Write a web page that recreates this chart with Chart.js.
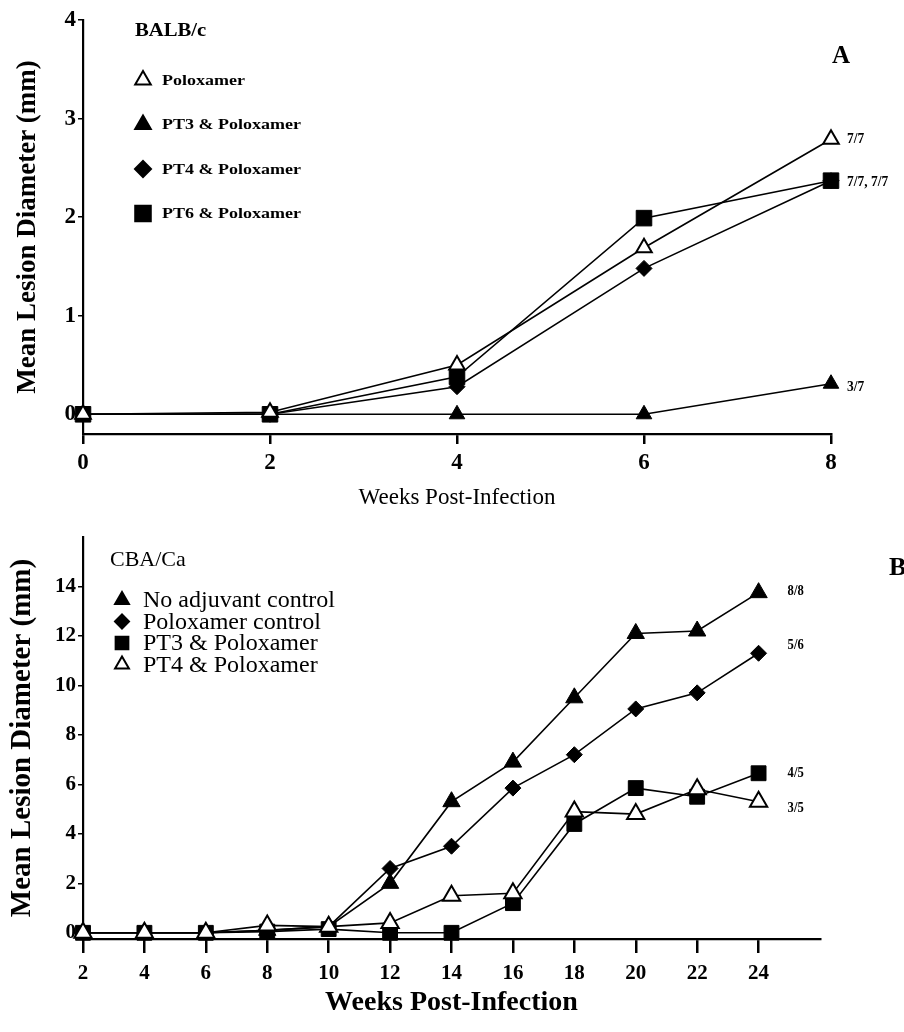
<!DOCTYPE html>
<html>
<head>
<meta charset="utf-8">
<script src="https://cdn.jsdelivr.net/npm/chart.js@4.4.1/dist/chart.umd.min.js"></script>
<style>
  html, body { margin: 0; padding: 0; background: #fff; }
  #page { position: relative; width: 904px; height: 1032px; overflow: hidden; }
  .panel { position: absolute; left: 0; width: 904px; }
  #panelA { top: 0; height: 520px; }
  #panelB { top: 520px; height: 512px; }
</style>
</head>
<body>
<div id="page">
  <div class="panel" id="panelA"><canvas id="chartA" width="904" height="520"></canvas></div>
  <div class="panel" id="panelB"><canvas id="chartB" width="904" height="512"></canvas></div>
</div>
<script>
// Panel A - BALB/c
const weeksA = [0, 2, 4, 6, 8];
const poloxamerA = [0, 0.02, 0.5, 1.69, 2.79];
const pt3A = [0, 0, 0, 0, 0.31];
const pt4A = [0, 0, 0.28, 1.48, 2.37];
const pt6A = [0, 0, 0.38, 1.99, 2.37];
const yTicksA = [0, 1, 2, 3, 4];
const xTicksA = [0, 2, 4, 6, 8];

// Panel B - CBA/Ca
const weeksB = [2, 4, 6, 8, 10, 12, 14, 16, 18, 20, 22, 24];
const noAdjuvantB = [0, 0, 0, 0.1, 0.25, 2.0, 5.3, 6.9, 9.5, 12.1, 12.2, 13.75];
const poloxamerB = [0, 0, 0, 0.1, 0.25, 2.6, 3.5, 5.85, 7.2, 9.05, 9.7, 11.3];
const pt3B = [0, 0, 0, 0.05, 0.15, 0, 0, 1.2, 4.4, 5.85, 5.5, 6.45];
const pt4B = [0, 0, 0, 0.3, 0.25, 0.4, 1.5, 1.6, 4.9, 4.8, 5.8, 5.3];
const yTicksB = [0, 2, 4, 6, 8, 10, 12, 14];
const xTicksB = [2, 4, 6, 8, 10, 12, 14, 16, 18, 20, 22, 24];

// responder counts written next to the last point of each line
const endLabelsA = [
  { text: '7/7', series: 0, dy: 0 },
  { text: '7/7, 7/7', series: 3, dy: 1 },
  { text: '3/7', series: 1, dy: 3 }
];
const endLabelsB = [
  { text: '8/8', series: 0, dy: -1 },
  { text: '5/6', series: 1, dy: -8 },
  { text: '4/5', series: 2, dy: 0 },
  { text: '3/5', series: 3, dy: 7 }
];

const SERIF = '"Liberation Serif", "DejaVu Serif", serif';

const toPoints = (xs, ys) => xs.map((x, i) => ({ x, y: ys[i] }));

const makeSeries = (label, xs, ys, style, filled, radius) => ({
  label,
  data: toPoints(xs, ys),
  borderColor: '#000',
  borderWidth: 1.6,
  pointStyle: style,
  pointRadius: radius,
  pointHoverRadius: radius,
  pointBackgroundColor: filled ? '#000' : '#fff',
  pointBorderColor: '#000',
  pointBorderWidth: filled ? 1 : 2,
  tension: 0,
  fill: false,
  clip: false
});

// draws text with a horizontal stretch (scan of the original is a bit wide)
const stretchText = (ctx, text, x, y, font, sx) => {
  ctx.save();
  ctx.translate(x, y);
  ctx.scale(sx, 1);
  ctx.font = font;
  ctx.fillText(text, 0, 0);
  ctx.restore();
};

const overlayPlugin = (opts) => ({
  id: 'overlay',
  afterDraw(chart) {
    const { ctx, scales } = chart;
    ctx.save();
    ctx.fillStyle = '#000';
    ctx.textBaseline = 'middle';
    ctx.textAlign = 'left';

    // strain name above the key
    stretchText(ctx, opts.strain.text, opts.strain.x, opts.strain.y, opts.strain.font, opts.strain.sx);

    // key: one marker + label per dataset
    opts.keyOrder.forEach((idx, row) => {
      const ds = chart.data.datasets[idx];
      const y = opts.key.y + row * opts.key.gap;
      ctx.fillStyle = ds.pointBackgroundColor;
      ctx.strokeStyle = '#000';
      Chart.helpers.drawPoint(ctx, {
        pointStyle: ds.pointStyle,
        radius: opts.key.radius[ds.pointStyle] || 7,
        rotation: 0,
        borderWidth: ds.pointBorderWidth
      }, opts.key.x, y);
      ctx.fillStyle = '#000';
      stretchText(ctx, ds.label, opts.key.x + opts.key.textDx, y + 1, opts.key.font, opts.key.sx);
    });

    // responder counts
    opts.endLabels.forEach(lab => {
      const ds = chart.data.datasets[lab.series];
      const last = ds.data[ds.data.length - 1];
      const px = scales.x.getPixelForValue(last.x) + opts.endDx;
      const py = scales.y.getPixelForValue(last.y) + lab.dy;
      stretchText(ctx, lab.text, px, py, opts.endFont, 0.9);
    });

    // panel letter
    ctx.font = opts.letter.font;
    ctx.fillText(opts.letter.text, opts.letter.x, opts.letter.y);
    ctx.restore();
  }
});

const makeScales = (cfg) => ({
  x: {
    type: 'linear',
    min: cfg.xMin,
    max: cfg.xMax,
    afterBuildTicks: s => { s.ticks = cfg.xTicks.map(v => ({ value: v })); },
    afterFit: s => { s.height = cfg.xHeight; },
    grid: { display: true, drawOnChartArea: false, drawTicks: true, tickLength: cfg.xTickLen, color: '#000', lineWidth: 2.5 },
    border: { display: true, color: '#000', width: 2.2 },
    ticks: { color: '#000', padding: cfg.xTickPad, maxRotation: 0, font: { family: SERIF, size: cfg.tickSize, weight: 'bold' } },
    title: { display: true, text: 'Weeks Post-Infection', color: '#000', padding: { top: 0, bottom: cfg.xTitlePad }, font: { family: SERIF, size: cfg.xTitleSize, weight: cfg.xTitleWeight } }
  },
  y: {
    type: 'linear',
    min: cfg.yMin,
    max: cfg.yMax,
    afterBuildTicks: s => { s.ticks = cfg.yTicks.map(v => ({ value: v })); },
    afterFit: s => { s.width = cfg.yWidth; },
    grid: { display: true, drawOnChartArea: false, drawTicks: true, tickLength: 5, color: '#000', lineWidth: 1.5 },
    border: { display: true, color: '#000', width: 2.2 },
    ticks: { color: '#000', padding: 2, font: { family: SERIF, size: cfg.tickSize, weight: 'bold' } },
    title: { display: true, text: 'Mean Lesion Diameter (mm)', color: '#000', padding: { top: cfg.yTitlePad, bottom: 0 }, font: { family: SERIF, size: cfg.yTitleSize, weight: 'bold' } }
  }
});

const baseOptions = {
  responsive: false,
  animation: false,
  events: [],
  plugins: { legend: { display: false }, tooltip: { enabled: false } }
};

new Chart(document.getElementById('chartA'), {
  type: 'line',
  data: {
    datasets: [
      makeSeries('Poloxamer', weeksA, poloxamerA, 'triangle', false, 9),
      makeSeries('PT3 & Poloxamer', weeksA, pt3A, 'triangle', true, 9),
      makeSeries('PT4 & Poloxamer', weeksA, pt4A, 'rectRot', true, 8),
      makeSeries('PT6 & Poloxamer', weeksA, pt6A, 'rect', true, 11)
    ]
  },
  options: {
    ...baseOptions,
    layout: { padding: { left: 0, top: 20, right: 73, bottom: 0 } },
    scales: makeScales({
      xMin: 0, xMax: 8, xTicks: xTicksA, xHeight: 86, xTickLen: 10, xTickPad: 5, xTitlePad: 8,
      xTitleSize: 23, xTitleWeight: 'normal',
      yMin: -0.2, yMax: 4, yTicks: yTicksA, yWidth: 83, yTitlePad: 12, yTitleSize: 27,
      tickSize: 23
    })
  },
  plugins: [overlayPlugin({
    strain: { text: 'BALB/c', x: 135, y: 31, font: 'bold 18px ' + SERIF, sx: 1.15 },
    key: { x: 143, y: 80, gap: 44.5, textDx: 19, font: 'bold 15px ' + SERIF, sx: 1.2,
           radius: { triangle: 9, rectRot: 8, rect: 11 } },
    keyOrder: [0, 1, 2, 3],
    endLabels: endLabelsA,
    endDx: 16,
    endFont: 'bold 15px ' + SERIF,
    letter: { text: 'A', x: 832, y: 57, font: 'bold 25px ' + SERIF }
  })]
});

new Chart(document.getElementById('chartB'), {
  type: 'line',
  data: {
    datasets: [
      makeSeries('No adjuvant control', weeksB, noAdjuvantB, 'triangle', true, 10),
      makeSeries('Poloxamer control', weeksB, poloxamerB, 'rectRot', true, 8),
      makeSeries('PT3 & Poloxamer', weeksB, pt3B, 'rect', true, 10.5),
      makeSeries('PT4 & Poloxamer', weeksB, pt4B, 'triangle', false, 10)
    ].map((ds, i) => ({ ...ds, order: 3 - i }))
  },
  options: {
    ...baseOptions,
    layout: { padding: { left: 0, top: 17, right: 84, bottom: 0 } },
    scales: makeScales({
      xMin: 2, xMax: 26, xTicks: xTicksB, xHeight: 93, xTickLen: 14, xTickPad: 8, xTitlePad: 12,
      xTitleSize: 28, xTitleWeight: 'bold',
      yMin: -0.25, yMax: 16, yTicks: yTicksB, yWidth: 83, yTitlePad: 5, yTitleSize: 29,
      tickSize: 21
    })
  },
  plugins: [overlayPlugin({
    strain: { text: 'CBA/Ca', x: 110, y: 40, font: '22px ' + SERIF, sx: 1.0 },
    key: { x: 122, y: 80, gap: 21.5, textDx: 21, font: '24px ' + SERIF, sx: 1.0,
           radius: { triangle: 8, rectRot: 7, rect: 9 } },
    keyOrder: [0, 1, 2, 3],
    endLabels: endLabelsB,
    endDx: 29,
    endFont: 'bold 14px ' + SERIF,
    letter: { text: 'B', x: 889, y: 48, font: 'bold 26px ' + SERIF }
  })]
});
</script>
</body>
</html>
